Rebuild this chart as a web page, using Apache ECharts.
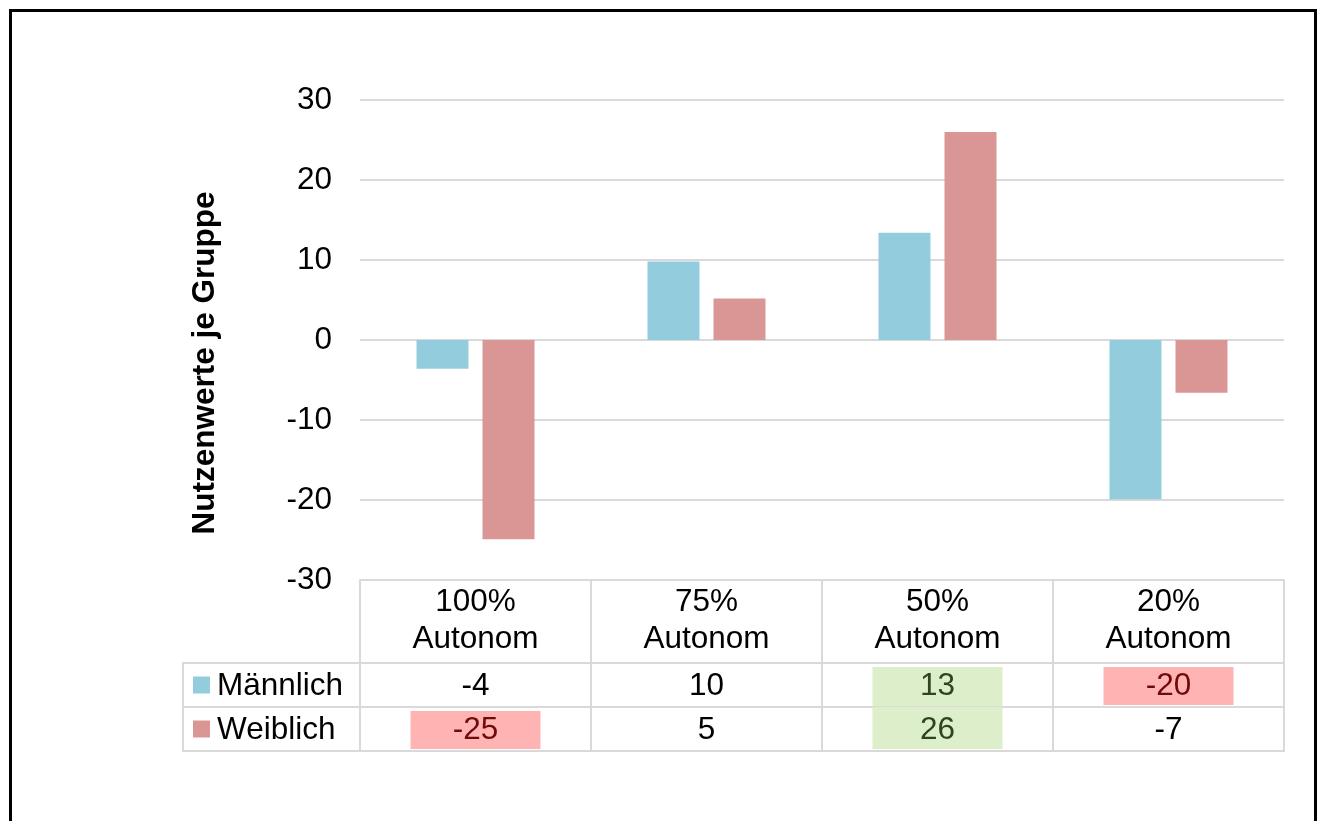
<!DOCTYPE html>
<html>
<head>
<meta charset="utf-8">
<script src="https://cdn.jsdelivr.net/npm/echarts@6/dist/echarts.min.js"></script>
<style>
  html, body { margin: 0; padding: 0; background: #fff; }
  #chart { width: 1319px; height: 821px; }
</style>
</head>
<body>
<div id="chart"></div>
<script>
// ---- data ----
const categories = ['100%\nAutonom', '75%\nAutonom', '50%\nAutonom', '20%\nAutonom'];
const seriesNames = ['Männlich', 'Weiblich'];
const maleValues = [-3.6, 9.8, 13.4, -19.9];
const femaleValues = [-24.9, 5.2, 26.0, -6.6];
const yAxisName = 'Nutzenwerte je Gruppe';
const yMin = -30, yMax = 30, yInterval = 10;

// ---- style ----
const FONT = '"Liberation Sans", Arial, sans-serif';
const FS = 31.5;
const seriesColors = ['#93cddd', '#d99694'];
const GRID_COLOR = '#d9d9d9';
const LEGEND_W = 177;

const rowValues = [maleValues, femaleValues];
function roundExcel(v) { return Math.sign(v) * Math.round(Math.abs(v)); }

// conditional formatting: top 2 green, bottom 2 red
const allVals = [];
rowValues.forEach((arr, r) => arr.forEach((v, c) => allVals.push({ v, r, c })));
const sorted = allVals.slice().sort((a, b) => a.v - b.v);
const hl = rowValues.map(arr => arr.map(() => ''));
sorted.slice(0, 2).forEach(o => hl[o.r][o.c] = 'bad');
sorted.slice(-2).forEach(o => hl[o.r][o.c] = 'good');
const hlStyle = {
  bad: { fill: '#ffb3b3', text: '#6e0a0a' },
  good: { fill: '#ddefca', text: '#2e4424' }
};

const tableData = [];
rowValues.forEach((arr, r) => arr.forEach((v, c) => tableData.push([c, r, v])));

function renderCell(params, api) {
  const c = api.value(0), r = api.value(1), v = api.value(2);
  const p0 = api.coord([c, r]);
  const p1 = api.coord([c + 1, r + 1]);
  const x0 = p0[0], y0 = p0[1], x1 = p1[0], y1 = p1[1];
  const children = [];
  children.push({
    type: 'rect',
    shape: { x: x0, y: y0, width: x1 - x0, height: y1 - y0 },
    style: { fill: 'none', stroke: GRID_COLOR, lineWidth: 2 }
  });
  const kind = hl[r][c];
  let textColor = '#000';
  if (kind) {
    const above = r > 0 && hl[r - 1][c] === kind;
    const below = r < rowValues.length - 1 && hl[r + 1][c] === kind;
    const top = above ? y0 : y0 + 4;
    const bottom = below ? y1 : y1 - 2;
    const w = 130;
    const cx = (x0 + x1) / 2;
    children.push({
      type: 'rect',
      shape: { x: cx - w / 2, y: top, width: w, height: bottom - top },
      style: { fill: hlStyle[kind].fill }
    });
    textColor = hlStyle[kind].text;
  }
  children.push({
    type: 'text',
    style: {
      x: (x0 + x1) / 2, y: (y0 + y1) / 2 + 1,
      text: String(roundExcel(v)),
      align: 'center', verticalAlign: 'middle',
      fontSize: FS, fontFamily: FONT, fill: textColor
    }
  });
  if (c === 0) {
    const lx = x0 - LEGEND_W;
    children.push({
      type: 'rect',
      shape: { x: lx, y: y0, width: LEGEND_W, height: y1 - y0 },
      style: { fill: 'none', stroke: GRID_COLOR, lineWidth: 2 }
    });
    const cy = (y0 + y1) / 2;
    children.push({
      type: 'rect',
      shape: { x: lx + 10, y: cy - 8.5, width: 17, height: 17 },
      style: { fill: seriesColors[r] }
    });
    children.push({
      type: 'text',
      style: {
        x: lx + 34, y: cy + 1,
        text: seriesNames[r],
        align: 'left', verticalAlign: 'middle',
        fontSize: FS, fontFamily: FONT, fill: '#000'
      }
    });
  }
  return { type: 'group', children };
}

const chart = echarts.init(document.getElementById('chart'), null, { renderer: 'canvas' });
const option = {
  animation: false,
  backgroundColor: '#fff',
  textStyle: { fontFamily: FONT },
  grid: [
    { left: 360, right: 35, top: 100, bottom: 241, containLabel: false, outerBoundsMode: 'none' },
    { left: 360, right: 35, top: 663, height: 88, containLabel: false, outerBoundsMode: 'none' }
  ],
  xAxis: [
    {
      type: 'category', gridIndex: 0, data: categories,
      axisLine: { show: true, onZero: false, lineStyle: { color: GRID_COLOR, width: 2 } },
      axisTick: { show: true, alignWithLabel: false, length: 83, lineStyle: { color: GRID_COLOR, width: 2 } },
      axisLabel: { interval: 0, fontSize: FS, lineHeight: 37, color: '#000', margin: 4, fontFamily: FONT },
      splitLine: { show: false }
    },
    { type: 'value', gridIndex: 1, min: 0, max: categories.length, show: false }
  ],
  yAxis: [
    {
      type: 'value', gridIndex: 0, min: yMin, max: yMax, interval: yInterval,
      axisLine: { show: false }, axisTick: { show: false },
      axisLabel: { fontSize: FS, color: '#000', margin: 28, fontFamily: FONT, padding: [4, 0, 0, 0] },
      splitLine: { lineStyle: { color: GRID_COLOR, width: 2 } }
    },
    { type: 'value', gridIndex: 1, min: 0, max: seriesNames.length, inverse: true, show: false }
  ],
  series: [
    {
      name: seriesNames[0], type: 'bar', xAxisIndex: 0, yAxisIndex: 0,
      data: maleValues, barWidth: '22.5%', barGap: '27%',
      itemStyle: { color: seriesColors[0] }
    },
    {
      name: seriesNames[1], type: 'bar', xAxisIndex: 0, yAxisIndex: 0,
      data: femaleValues, barWidth: '22.5%', barGap: '27%',
      itemStyle: { color: seriesColors[1] }
    },
    {
      type: 'custom', xAxisIndex: 1, yAxisIndex: 1,
      data: tableData, encode: { x: 0, y: 1 },
      clip: false, renderItem: renderCell, silent: true
    }
  ],
  graphic: [
    {
      type: 'rect', left: 8, top: 8,
      shape: { x: 0, y: 0, width: 1305, height: 840 },
      style: { fill: 'none', stroke: '#000', lineWidth: 3 },
      z: 100
    },
    {
      type: 'text',
      x: 205, y: 363, rotation: Math.PI / 2,
      style: {
        text: yAxisName, align: 'center', verticalAlign: 'middle',
        fontSize: FS, fontWeight: 'bold', fontFamily: FONT, fill: '#000'
      }
    }
  ]
};
chart.setOption(option);
</script>
</body>
</html>
